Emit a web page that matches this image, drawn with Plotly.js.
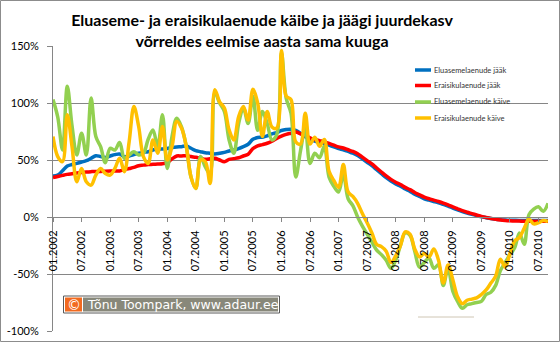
<!DOCTYPE html>
<html><head><meta charset="utf-8">
<script src="https://cdn.plot.ly/plotly-3.0.1.min.js"></script>
<style>html,body{margin:0;padding:0;background:#fff}#chart{width:560px;height:342px}</style>
</head><body><div id="chart"></div>
<script>
// Categories: months 01.2002 .. 09.2010
const months = [];
for (let y = 2002; y <= 2010; y++) {
  for (let m = 1; m <= 12; m++) {
    if (y === 2010 && m > 9) break;
    months.push((m < 10 ? '0' + m : '' + m) + '.' + y);
  }
}
const seriesNames = ['Eluasemelaenude jääk', 'Eraisikulaenude jääk', 'Eluasemelaenude käive', 'Eraisikulaenude käive'];
const seriesColors = ['#0070C0', '#FF0000', '#92D050', '#FFC000'];

const eluasemeJaak = [35.9,36.8,40.5,44.7,46,47,48.2,49.4,51.5,53.8,53,52.3,53.5,54.7,55.3,52.9,53.5,54.7,55.9,56.7,
  57.3,58.8,59.4,59.7,60,60.9,61.5,61.7,62.3,60.3,58.2,57.3,56.4,55.9,55.3,55.9,56.7,57.9,58.8,60,
  61.7,63.8,68.2,69.7,70,71.1,72.9,74.1,75.9,76.7,77,75.9,73.5,70.5,68.5,66.5,65.5,64.5,63,61.5,
  60,59,57.5,56,54,51,48,45,41.5,38,34.5,31.5,29,27,24.5,22.5,20,18,16,14.8,
  13.6,12.4,11,9.5,7.8,6.2,4.8,3.5,2.3,1.2,0.2,-0.6,-1.3,-1.9,-2.3,-2.6,-2.8,-2.9,-3,-3,
  -3,-3,-3,-3,-3];
const eraisikuJaak = [34.7,35.5,36.5,37.4,38,38.6,39.1,39.5,39.8,40,40,40.2,40.3,40.3,40.4,41.5,42.5,43.5,45,45.5,
  46,46.2,46.5,46.8,47.5,51,53.5,53.5,53.8,53,52.4,51.5,50.6,51,51.5,50,48.5,50.5,51.2,52,
  53.5,55,60,62.4,63.5,64.7,66.5,69,71,72.5,73.5,74.5,73,71.5,69.5,68,67,66,64.5,63,
  61.5,60.5,59,57.5,55.5,52.5,49.5,46.5,43,39.5,36,33,30.5,28.5,26,24,21.5,19.5,17.5,16,
  14.8,13.6,12.2,10.6,8.8,7.2,5.6,4.2,3,1.8,0.6,-0.4,-1.3,-2,-2.6,-3,-3.3,-3.5,-3.6,-3.7,
  -3.7,-3.7,-3.7,-3.7,-3.7];
const eluasemeKaive = [103,87.6,58.8,114.7,80,54.4,73.5,54.4,104.4,70.6,61.7,47.6,60.3,58.8,65.3,51.5,54.4,57.3,54.4,55.9,
  68.2,76.4,61.7,89.7,42.6,70.6,86.7,79,62,35,25,53,44,38,109,100,92.6,67.6,56,82,
  95.6,82,106,76,92.6,82,67.6,72,144,104,91,35,58,78,47,56,52,62,35,27,
  22,38,16,10,0,-8,-15,-22,-29,-33,-38,-45,-38,-25,-14,-16,-30,-44,-40,-36,
  -45,-42,-60,-45,-65,-74,-80,-77,-76,-75,-74,-68,-66,-60,-47,-40,-33,-27,-14,-24,
  2,7,9,5,12];
const eraisikuKaive = [70.6,53,48.5,89.7,61.7,30.9,42.6,30.9,28,36.8,42.6,38.2,36.8,42.6,51.5,39.7,66,97,79.4,53,
  47,67.6,55.9,79.4,50,61.7,83.8,78,62,35,25,50,48.5,29.4,111.7,101,95.6,76.4,67.6,88,
  97,85,112,100,70.6,92.6,79,78,146,106,103,66,64,91,64,70,62,68,40,32,
  26,46,22,18,12,3,-5,-14,-24,-26,-30,-40,-34,-25,-13,-15,-28,-35,-32,-35,
  -28,-38,-58,-42,-55,-70,-76,-73,-72,-71,-68,-64,-58,-52,-37,-44,-32,-21,-18,-10,
  -2,-6,-5,-3,-4];
const seriesValues = [eluasemeJaak, eraisikuJaak, eluasemeKaive, eraisikuKaive];

const yTickVals = [-100, -50, 0, 50, 100, 150];
const yTickText = ['-100%', '-50%', '0%', '50%', '100%', '150%'];
const xTickVals = months.filter((m, i) => i % 6 === 0);

const titleText = 'Eluaseme- ja eraisikulaenude käibe ja jäägi juurdekasv<br>võrreldes eelmise aasta sama kuuga';
const creditText = 'Tõnu Toompark, www.adaur.ee';

// pixel -> paper helpers (plot area 53..548 x 46..331)
const L = 53, R = 548, T = 46, B = 331;
const px = X => (X - L) / (R - L);
const py = Y => (B - Y) / (B - T);

const FONT = 'Lato, "Open Sans", sans-serif';

const traces = seriesValues.map((vals, i) => ({
  type: 'scatter', mode: 'lines', x: months, y: vals, name: seriesNames[i],
  line: {color: seriesColors[i], width: 3.5, shape: 'spline', smoothing: 1},
  hoverinfo: 'skip', showlegend: false
}));

const legendY = [70, 85.5, 102, 118];
const shapes = [
  {type: 'rect', xref: 'paper', yref: 'paper', x0: px(371), x1: px(549), y0: py(130), y1: py(55),
   fillcolor: '#ffffff', line: {width: 0}, layer: 'between'},
  {type: 'line', xref: 'paper', yref: 'paper', x0: px(418), x1: px(474), y0: py(317), y1: py(317),
   line: {color: '#cfc6b4', width: 1}},
  {type: 'rect', xref: 'paper', yref: 'paper', x0: px(63.5), x1: px(279.5), y0: py(313), y1: py(296),
   fillcolor: '#ffffff', line: {color: '#5a5a5a', width: 1}},
  {type: 'rect', xref: 'paper', yref: 'paper', x0: px(65), x1: px(82), y0: py(311.5), y1: py(297.5),
   fillcolor: '#F26A1F', line: {width: 0}},
  {type: 'rect', xref: 'paper', yref: 'paper', x0: px(83), x1: px(278), y0: py(311.5), y1: py(297.5),
   fillcolor: '#88887A', line: {width: 0}},
  {type: 'rect', xref: 'paper', yref: 'paper', x0: px(0.5), x1: px(559.5), y0: py(341.5), y1: py(0.5),
   fillcolor: 'rgba(0,0,0,0)', line: {color: '#8c8c8c', width: 1}}
];
seriesNames.forEach((n, i) => {
  shapes.push({type: 'line', xref: 'paper', yref: 'paper', x0: px(415), x1: px(431), y0: py(legendY[i]), y1: py(legendY[i]),
    line: {color: seriesColors[i], width: 3.5}});
});

const annotations = seriesNames.map((n, i) => ({
  xref: 'paper', yref: 'paper', x: px(432), y: py(legendY[i]), xanchor: 'left', yanchor: 'middle',
  text: n, showarrow: false, font: {family: FONT, size: 7.5, color: '#333'}
}));
annotations.push({xref: 'paper', yref: 'paper', x: px(73.5), y: py(304.5), xanchor: 'center', yanchor: 'middle',
  text: '©', showarrow: false, font: {family: 'DejaVu Sans', size: 14, color: '#fff'}});
annotations.push({xref: 'paper', yref: 'paper', x: px(85), y: py(304.5), xanchor: 'left', yanchor: 'middle',
  text: creditText, showarrow: false, font: {family: 'DejaVu Sans', size: 12.5, color: '#fff'}});

const layout = {
  width: 560, height: 342,
  margin: {l: L, r: 560 - R, t: T, b: 342 - B, pad: 0},
  paper_bgcolor: '#fff', plot_bgcolor: '#fff',
  title: {text: titleText, x: 262 / 560, xref: 'container', xanchor: 'center', y: 0.923, yref: 'container', yanchor: 'middle',
    font: {family: FONT, size: 16, color: '#000', weight: 'bold'}},
  xaxis: {type: 'category', range: [0, months.length - 1], anchor: 'free', position: 0.4,
    tickmode: 'array', tickvals: xTickVals, ticktext: xTickVals, tickangle: -90,
    ticks: 'outside', ticklen: 4, tickcolor: '#868686', ticklabelstandoff: 4,
    showline: true, linecolor: '#868686', linewidth: 1, showgrid: false, zeroline: false,
    tickfont: {family: FONT, size: 11, color: '#000'}, automargin: false},
  yaxis: {range: [-100, 150], tickmode: 'array', tickvals: yTickVals, ticktext: yTickText,
    ticks: 'outside', ticklen: 5, tickcolor: '#868686', ticklabelstandoff: 6,
    showline: true, linecolor: '#868686', linewidth: 1, showgrid: true, gridcolor: '#868686', gridwidth: 1,
    zeroline: false, tickfont: {family: FONT, size: 11, color: '#000'}, automargin: false},
  showlegend: false,
  shapes: shapes, annotations: annotations
};

Plotly.newPlot('chart', traces, layout, {staticPlot: true, displayModeBar: false});
</script></body></html>
